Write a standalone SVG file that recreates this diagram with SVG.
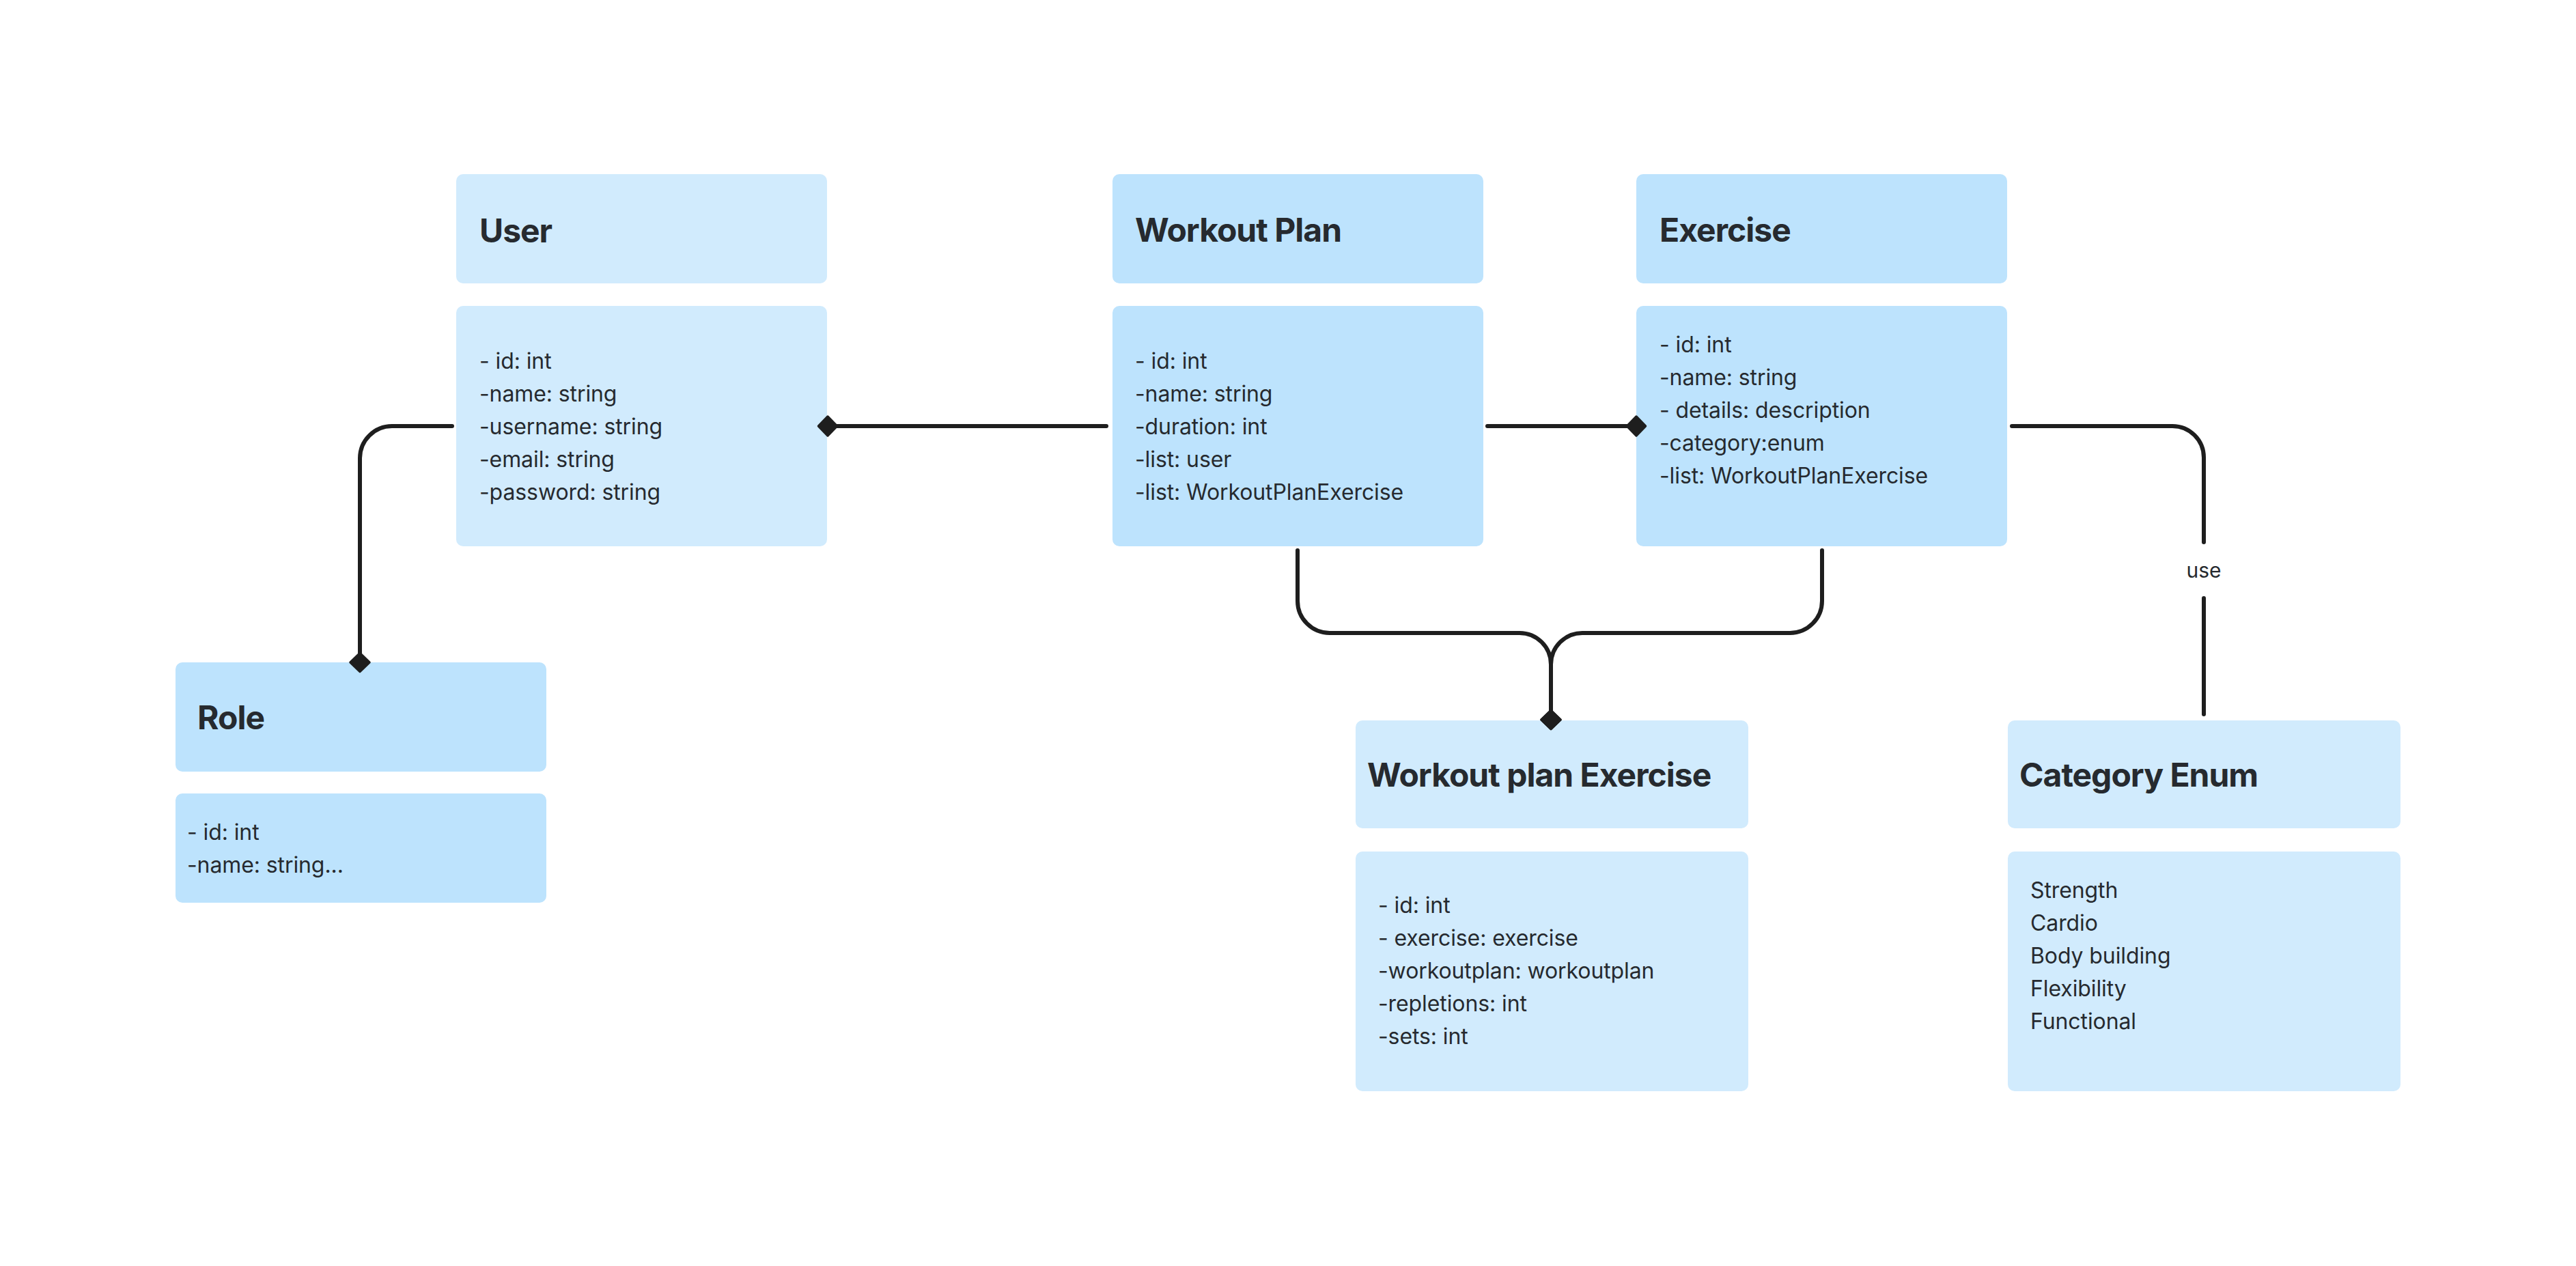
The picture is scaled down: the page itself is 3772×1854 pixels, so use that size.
<svg xmlns="http://www.w3.org/2000/svg" width="3772" height="1854" viewBox="0 0 3772 1854">
  <style>
    .hl { fill: #D1EBFD; }
    .hd { fill: #BDE3FD; }
    .title { font-family: Inter, "Noto Sans", "Liberation Sans", sans-serif; font-weight: 700; font-size: 48px; letter-spacing: -1px; fill: #262A2F; }
    .body { font-family: Inter, "Noto Sans", "Liberation Sans", sans-serif; font-weight: 400; font-size: 32px; letter-spacing: -0.1px; fill: #262A2F; }
    .lbl { font-family: Inter, "Noto Sans", "Liberation Sans", sans-serif; font-weight: 400; font-size: 30px; fill: #262A2F; text-anchor: middle; }
    .conn { fill: none; stroke: #1E1E1E; stroke-width: 6; stroke-linecap: round; stroke-linejoin: round; }
  </style>
  <defs>
    <marker id="diamond" viewBox="-20 -20 40 40" markerWidth="40" markerHeight="40" refX="0" refY="0" orient="auto" markerUnits="userSpaceOnUse">
      <path d="M-13.5,0 L0,-14 L13.5,0 L0,14 Z" fill="#1E1E1E" stroke="#1E1E1E" stroke-width="3.5" stroke-linejoin="round"/>
    </marker>
  </defs>
  <rect width="3772" height="1854" fill="#FFFFFF"/>

  <g id="user">
    <rect class="hl" x="668" y="255" width="543" height="160" rx="10"/>
    <text class="title" x="702" y="355">User</text>
    <rect class="hl" x="668" y="448" width="543" height="352" rx="10"/>
    <text class="body" x="702" y="540">- id: int</text>
    <text class="body" x="702" y="588">-name: string</text>
    <text class="body" x="702" y="636">-username: string</text>
    <text class="body" x="702" y="684">-email: string</text>
    <text class="body" x="702" y="732">-password: string</text>
  </g>

  <g id="workout-plan">
    <rect class="hd" x="1629" y="255" width="543" height="160" rx="10"/>
    <text class="title" x="1662" y="354">Workout Plan</text>
    <rect class="hd" x="1629" y="448" width="543" height="352" rx="10"/>
    <text class="body" x="1662" y="540">- id: int</text>
    <text class="body" x="1662" y="588">-name: string</text>
    <text class="body" x="1662" y="636">-duration: int</text>
    <text class="body" x="1662" y="684">-list: user</text>
    <text class="body" x="1662" y="732">-list: WorkoutPlanExercise</text>
  </g>

  <g id="exercise">
    <rect class="hd" x="2396" y="255" width="543" height="160" rx="10"/>
    <text class="title" x="2430" y="354">Exercise</text>
    <rect class="hd" x="2396" y="448" width="543" height="352" rx="10"/>
    <text class="body" x="2430" y="516">- id: int</text>
    <text class="body" x="2430" y="564">-name: string</text>
    <text class="body" x="2430" y="612">- details: description</text>
    <text class="body" x="2430" y="660">-category:enum</text>
    <text class="body" x="2430" y="708">-list: WorkoutPlanExercise</text>
  </g>

  <g id="role">
    <rect class="hd" x="257" y="970" width="543" height="160" rx="10"/>
    <text class="title" x="289" y="1068">Role</text>
    <rect class="hd" x="257" y="1162" width="543" height="160" rx="10"/>
    <text class="body" x="274" y="1230">- id: int</text>
    <text class="body" x="274" y="1278">-name: string...</text>
  </g>

  <g id="workout-plan-exercise">
    <rect class="hl" x="1985" y="1055" width="575" height="158" rx="10"/>
    <text class="title" x="2002" y="1152">Workout plan Exercise</text>
    <rect class="hl" x="1985" y="1247" width="575" height="351" rx="10"/>
    <text class="body" x="2018" y="1337">- id: int</text>
    <text class="body" x="2018" y="1385">- exercise: exercise</text>
    <text class="body" x="2018" y="1433">-workoutplan: workoutplan</text>
    <text class="body" x="2018" y="1481">-repletions: int</text>
    <text class="body" x="2018" y="1529">-sets: int</text>
  </g>

  <g id="category-enum">
    <rect class="hl" x="2940" y="1055" width="575" height="158" rx="10"/>
    <text class="title" x="2957" y="1152">Category Enum</text>
    <rect class="hl" x="2940" y="1247" width="575" height="351" rx="10"/>
    <text class="body" x="2973" y="1315">Strength</text>
    <text class="body" x="2973" y="1363">Cardio</text>
    <text class="body" x="2973" y="1411">Body building</text>
    <text class="body" x="2973" y="1459">Flexibility</text>
    <text class="body" x="2973" y="1507">Functional</text>
  </g>

  <g id="connectors">
    <path class="conn" d="M662,624 H574 A47,47 0 0 0 527,671 V970" marker-end="url(#diamond)"/>
    <path class="conn" d="M1212,624 H1620" marker-start="url(#diamond)"/>
    <path class="conn" d="M2178,624 H2396" marker-end="url(#diamond)"/>
    <path class="conn" d="M2946,624 H3181 A46,46 0 0 1 3227,670 V794"/>
    <path class="conn" d="M3227,876 V1046"/>
    <text class="lbl" x="3227" y="846">use</text>
    <path class="conn" d="M1900,806 V880 A47,47 0 0 0 1947,927 H2225 A46,46 0 0 1 2271,973 V1054" marker-end="url(#diamond)"/>
    <path class="conn" d="M2668,806 V880 A47,47 0 0 1 2621,927 H2317 A46,46 0 0 0 2271,973 V1054" marker-end="url(#diamond)"/>
  </g>
</svg>
